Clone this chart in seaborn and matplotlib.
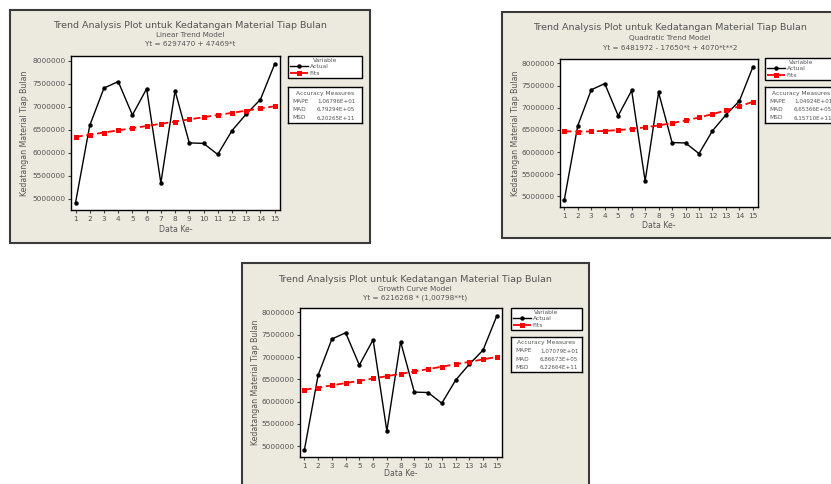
import matplotlib
matplotlib.use("Agg")
import matplotlib.pyplot as plt
import seaborn as sns
from matplotlib.patches import Rectangle

# ---------------- data ----------------
t = list(range(1, 16))
actual = [4920000, 6595000, 7405000, 7545000, 6820000, 7390000, 5345000, 7345000,
          6215000, 6205000, 5965000, 6480000, 6840000, 7155000, 7920000]
fits_linear = [6344939, 6392408, 6439877, 6487346, 6534815, 6582284, 6629753, 6677222,
               6724691, 6772160, 6819629, 6867098, 6914567, 6962036, 7009505]
fits_quadratic = [6468392, 6462952, 6465652, 6476492, 6495472, 6522592, 6557852, 6601252,
                  6652792, 6712472, 6780292, 6856252, 6940352, 7032592, 7132972]
fits_growth = [6265874, 6315876, 6366277, 6417080, 6468288, 6519905, 6571934, 6624378,
               6677241, 6730525, 6784235, 6838373, 6892943, 6947949, 7003394]
y_ticks = [5000000, 5500000, 6000000, 6500000, 7000000, 7500000, 8000000]
main_title = "Trend Analysis Plot untuk Kedatangan Material Tiap Bulan"
models = ["Linear Trend Model", "Quadratic Trend Model", "Growth Curve Model"]
equations = ["Yt = 6297470 + 47469*t",
             "Yt = 6481972 - 17650*t + 4070*t**2",
             "Yt = 6216268 * (1,00798**t)"]
acc_names = ["MAPE", "MAD", "MSD"]
mape = ["1,06796E+01", "1,04924E+01", "1,07079E+01"]
mad = ["6,79294E+05", "6,65366E+05", "6,86673E+05"]
msd = ["6,20265E+11", "6,15710E+11", "6,22664E+11"]
series_names = ["Actual", "Fits"]

# ---------------- layout (pixels) ----------------
W, H = 831, 484
fig = plt.figure(figsize=(W / 100, H / 100), dpi=100)


def fr(x0, y0, x1, y1):
    return [x0 / W, 1 - y1 / H, (x1 - x0) / W, (y1 - y0) / H]


panels = [
    dict(box=(10, 10, 370, 243), ax=(71, 56, 280, 210), ty=(25, 35, 44), cx=190,
         xl=229, yl=25, leg=(288, 56, 362, 84), acc=(288, 87, 362, 123), fits=fits_linear),
    dict(box=(502, 12, 842, 238), ax=(560, 59, 758, 207), ty=(28, 38, 48), cx=670,
         xl=225, yl=516, leg=(765, 58, 838, 85), acc=(765, 87, 838, 123), fits=fits_quadratic),
    dict(box=(242, 263, 589, 492), ax=(300, 308, 502, 457), ty=(279, 289, 298), cx=415,
         xl=473, yl=255, leg=(511, 308, 582, 335), acc=(511, 337, 582, 372), fits=fits_growth),
]

BG = "#ECE9DF"
TXT = "#555555"

for i, p in enumerate(panels):
    x0, y0, x1, y1 = p["box"]
    fig.patches.append(Rectangle((x0 / W, 1 - y1 / H), (x1 - x0) / W, (y1 - y0) / H,
                                 transform=fig.transFigure, facecolor=BG,
                                 edgecolor="#3a3a3a", linewidth=1.5, zorder=-10))
    fig.text(p["cx"] / W, 1 - p["ty"][0] / H, main_title, ha="center", va="center",
             fontsize=6.8, color=TXT)
    fig.text(p["cx"] / W, 1 - p["ty"][1] / H, models[i], ha="center", va="center",
             fontsize=5.2, color=TXT)
    fig.text(p["cx"] / W, 1 - p["ty"][2] / H, equations[i], ha="center", va="center",
             fontsize=5.2, color=TXT)

    ax = fig.add_axes(fr(*p["ax"]))
    ax.set_facecolor("white")
    sns.lineplot(x=t, y=actual, ax=ax, color="black", marker="o", markersize=3.2,
                 markeredgecolor="black", markeredgewidth=0, linewidth=1.0,
                 label=series_names[0])
    sns.lineplot(x=t, y=p["fits"], ax=ax, color="red", marker="s", markersize=3.6,
                 markeredgecolor="red", markeredgewidth=0, linewidth=1.3,
                 linestyle=(0, (4, 2)), label=series_names[1])
    ax.set_xlim(0.68, 15.38)
    ax.set_ylim(4760000, 8100000)
    ax.set_xticks(t, labels=[str(v) for v in t])
    ax.set_yticks(y_ticks, labels=[str(v) for v in y_ticks])
    ax.tick_params(direction="out", length=2.5, width=0.8, color="#444444",
                   labelsize=5.3, labelcolor=TXT, pad=1.5)
    for s in ax.spines.values():
        s.set_color("black")
        s.set_linewidth(1.0)
    axx0, axy0, axx1, axy1 = p["ax"]
    aw, ah = axx1 - axx0, axy1 - axy0
    ax.set_xlabel("Data Ke-", fontsize=5.6, color=TXT, va="center")
    ax.xaxis.set_label_coords(0.5, -(p["xl"] - axy1) / ah)
    ax.set_ylabel("Kedatangan Material Tiap Bulan", fontsize=5.6, color=TXT, va="center")
    ax.yaxis.set_label_coords(-(axx0 - p["yl"]) / aw, 0.5)

    lx0, ly0, lx1, ly1 = p["leg"]
    leg = ax.legend(title="Variable", loc="upper left",
                    bbox_to_anchor=(lx0 / W, 1 - ly1 / H, (lx1 - lx0) / W, (ly1 - ly0) / H),
                    bbox_transform=fig.transFigure, mode="expand", fontsize=4.3,
                    title_fontsize=4.3, frameon=True, fancybox=False, handlelength=3.0,
                    borderpad=0.35, labelspacing=0.2, handletextpad=0.3,
                    borderaxespad=0, framealpha=1)
    leg.get_frame().set_edgecolor("black")
    leg.get_frame().set_linewidth(1.0)
    leg.get_title().set_color(TXT)
    for txt in leg.get_texts():
        txt.set_color(TXT)

    ax0, ay0, ax1, ay1 = p["acc"]
    acc = fig.add_axes(fr(*p["acc"]))
    acc.set_facecolor("white")
    acc.set_xticks([])
    acc.set_yticks([])
    for s in acc.spines.values():
        s.set_color("black")
        s.set_linewidth(1.0)
    acc.text(0.5, 0.83, "Accuracy Measures", ha="center", va="center", fontsize=4.3,
             color=TXT, transform=acc.transAxes)
    vals = [mape[i], mad[i], msd[i]]
    vx = 29 / (ax1 - ax0)
    for j, (nm, vv) in enumerate(zip(acc_names, vals)):
        yy = [0.6, 0.37, 0.14][j]
        acc.text(0.06, yy, nm, ha="left", va="center", fontsize=4.2, color=TXT,
                 transform=acc.transAxes)
        acc.text(vx, yy, vv, ha="left", va="center", fontsize=4.1, color=TXT,
                 transform=acc.transAxes)

fig.savefig("out.png", dpi=100, facecolor="white")
